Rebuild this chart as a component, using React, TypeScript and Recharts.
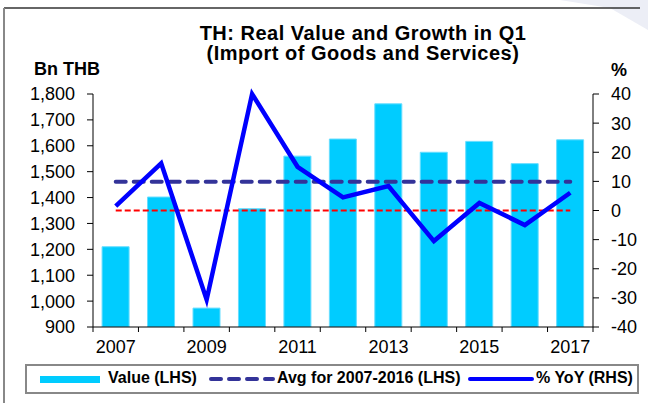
import { ComposedChart, Bar, Line, XAxis, YAxis, ReferenceLine } from 'recharts';

const years = ['2007', '2008', '2009', '2010', '2011', '2012', '2013', '2014', '2015', '2016', '2017'];
const importValue = [1210, 1402, 973, 1357, 1560, 1626, 1762, 1575, 1617, 1531, 1623];
const yoyGrowth = [1.5, 16.2, -30.6, 40, 15, 4.5, 8.4, -10.5, 2.6, -5, 6.1];
const avgValue = 1461;
const leftTicks = [900, 1000, 1100, 1200, 1300, 1400, 1500, 1600, 1700, 1800];
const rightTicks = [-40, -30, -20, -10, 0, 10, 20, 30, 40];
const labelledYears = ['2007', '2009', '2011', '2013', '2015', '2017'];

const data = years.map((year, i) => ({ year, value: importValue[i], yoy: yoyGrowth[i] }));

const FONT = '"Liberation Sans", Arial, sans-serif';

const YearTick = (props: any) => {
    const { x, y, payload, index } = props;
    const half = payload.offset || 500 / 22;
    return (
        <g>
            <line x1={x - half} y1={y} x2={x - half} y2={y + 5} stroke="#000" />
            {index === years.length - 1 && <line x1={x + half} y1={y} x2={x + half} y2={y + 5} stroke="#000" />}
            {labelledYears.includes(payload.value) && (
                <text x={x} y={y + 26} textAnchor="middle" fontSize={18} fill="#000" fontFamily={FONT}>
                    {payload.value}
                </text>
            )}
        </g>
    );
};

const legendText = { fontSize: 16, fontWeight: 700, color: '#000' } as const;

export default function App() {
    return (
        <div style={{ position: 'absolute', left: 0, top: 0, width: 648, height: 403, background: '#fff', fontFamily: FONT, overflow: 'hidden' }}>
            <svg width={648} height={403} style={{ position: 'absolute', left: 0, top: 0 }}>
                <polygon points="560,0 648,0 648,30 610,8" fill="#eceef6" />
                <line x1={4} y1={8} x2={640} y2={8} stroke="#333" strokeWidth={1.5} />
                <line x1={4} y1={8} x2={4} y2={403} stroke="#888" strokeWidth={2} />
            </svg>
            <div style={{ position: 'absolute', left: 130, width: 466, top: 23, textAlign: 'center', fontSize: 20, letterSpacing: 0.5, fontWeight: 700, lineHeight: '20px', color: '#000' }}>
                TH: Real Value and Growth in Q1
                <br />
                (Import of Goods and Services)
            </div>
            <div style={{ position: 'absolute', left: 34, top: 59, fontSize: 18, fontWeight: 700, color: '#000' }}>Bn THB</div>
            <div style={{ position: 'absolute', left: 611, top: 60, fontSize: 18, fontWeight: 700, color: '#000' }}>%</div>
            <div style={{ position: 'absolute', left: 0, top: 0 }}>
                <ComposedChart width={648} height={403} data={data} margin={{ top: 94, right: 0, bottom: 0, left: 0 }} barCategoryGap="20%">
                    <XAxis
                        dataKey="year"
                        height={76}
                        interval={0}
                        tickSize={0}
                        tickMargin={0}
                        tick={<YearTick />}
                        axisLine={{ stroke: '#000' }}
                    />
                    <YAxis
                        yAxisId="left"
                        orientation="left"
                        width={93}
                        domain={[900, 1800]}
                        ticks={leftTicks}
                        interval={0}
                        tickFormatter={(v: number) => v.toLocaleString('en-US')}
                        tickSize={6}
                        tickMargin={12}
                        tick={{ fill: '#000', fontSize: 18, fontFamily: FONT }}
                        axisLine={{ stroke: '#000' }}
                        tickLine={{ stroke: '#000' }}
                        allowDataOverflow
                    />
                    <YAxis
                        yAxisId="right"
                        orientation="right"
                        width={55}
                        domain={[-40, 40]}
                        ticks={rightTicks}
                        interval={0}
                        tickSize={6}
                        tickMargin={12}
                        tick={{ fill: '#000', fontSize: 18, fontFamily: FONT, textAnchor: 'start' }}
                        axisLine={{ stroke: '#000' }}
                        tickLine={{ stroke: '#000' }}
                    />
                    <Bar yAxisId="left" dataKey="value" fill="#00CCFF" stroke="#66DDFF" strokeWidth={1} isAnimationActive={false} />
                    <ReferenceLine
                        yAxisId="left"
                        segment={[{ x: '2007', y: avgValue }, { x: '2017', y: avgValue }]}
                        stroke="#333399"
                        strokeWidth={4}
                        strokeDasharray="10 8"
                        strokeLinecap="round"
                    />
                    <ReferenceLine
                        yAxisId="right"
                        segment={[{ x: '2007', y: 0 }, { x: '2017', y: 0 }]}
                        stroke="#FF0000"
                        strokeWidth={2}
                        strokeDasharray="6 3"
                    />
                    <Line yAxisId="right" dataKey="yoy" stroke="#0000FF" strokeWidth={4.5} dot={false} isAnimationActive={false} strokeLinejoin="miter" />
                </ComposedChart>
            </div>
            <div style={{ position: 'absolute', left: 25, top: 364, width: 610, height: 26, border: '2px solid #888', whiteSpace: 'nowrap' }}>
                <span style={{ position: 'absolute', left: 13, top: 10, width: 60, height: 7, background: '#00CCFF' }} />
                <span style={{ ...legendText, position: 'absolute', left: 81, top: 3 }}>Value (LHS)</span>
                <svg width={68} height={8} style={{ position: 'absolute', left: 181, top: 9 }}>
                    <line x1={3} y1={4} x2={65} y2={4} stroke="#333399" strokeWidth={4} strokeDasharray="10 8" strokeLinecap="round" />
                </svg>
                <span style={{ ...legendText, position: 'absolute', left: 250, top: 3 }}>Avg for 2007-2016 (LHS)</span>
                <svg width={66} height={8} style={{ position: 'absolute', left: 441, top: 9 }}>
                    <line x1={2} y1={4} x2={64} y2={4} stroke="#0000FF" strokeWidth={4} strokeLinecap="round" />
                </svg>
                <span style={{ ...legendText, position: 'absolute', left: 509, top: 3 }}>% YoY (RHS)</span>
            </div>
        </div>
    );
}
